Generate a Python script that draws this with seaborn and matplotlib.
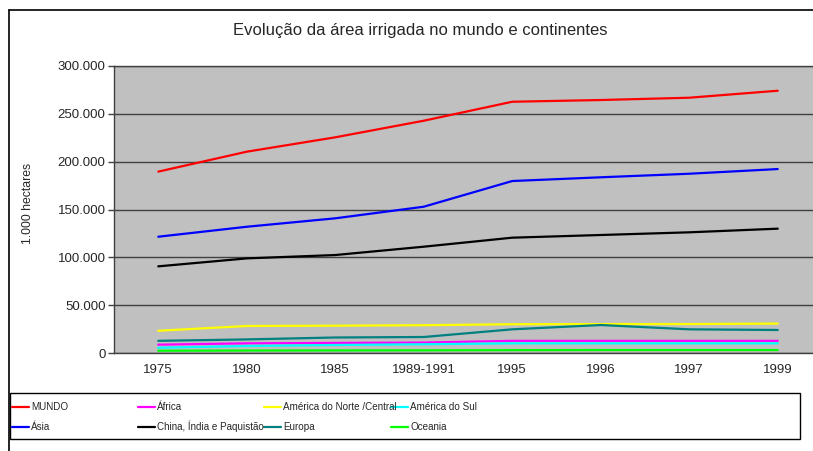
import numpy as np
import pandas as pd
import seaborn as sns
import matplotlib.pyplot as plt
from matplotlib.lines import Line2D
from matplotlib.patches import Rectangle
from matplotlib.ticker import FuncFormatter

# valores em 1.000 hectares
anos = ['1975', '1980', '1985', '1989-1991', '1995', '1996', '1997', '1999']
mundo = [189500, 210300, 225300, 242600, 262400, 264200, 266600, 273900]
africa = [9000, 10400, 10800, 11200, 13000, 13000, 13000, 13000]
am_norte = [23500, 28500, 28800, 29300, 30300, 30500, 30500, 31000]
am_sul = [5800, 7600, 8700, 9400, 10400, 10400, 10400, 10400]
asia = [121600, 132000, 140800, 152900, 179700, 183600, 187300, 192200]
china_india_paq = [90700, 99000, 102500, 111200, 120600, 123400, 126200, 130000]
europa = [13000, 14500, 16500, 17000, 25000, 29500, 25000, 24300]
oceania = [2700, 2900, 3000, 3100, 3300, 3400, 3400, 3400]

series = ['MUNDO', 'África', 'América do Norte /Central', 'América do Sul',
          'Ásia', 'China, Índia e Paquistão', 'Europa', 'Oceania']
valores = [mundo, africa, am_norte, am_sul, asia, china_india_paq, europa, oceania]
cores = ['#FF0000', '#FF00FF', '#FFFF00', '#00FFFF',
         '#0000FF', '#000000', '#008080', '#00FF00']
paleta = dict(zip(series, cores))

df = pd.DataFrame({
    'pos': list(range(len(anos))) * len(series),
    'serie': [s for s in series for _ in anos],
    'area': [v for vals in valores for v in vals],
})

sns.set_style('white')
plt.rcParams['font.family'] = ['Liberation Sans', 'DejaVu Sans']

W, H = 813, 451
fig = plt.figure(figsize=(W / 100, H / 100), dpi=100)
ax = fig.add_axes([114 / W, 1 - 353.3 / H, 708 / W, 287.6 / H])
ax.set_facecolor('#C0C0C0')

sns.lineplot(data=df, x='pos', y='area', hue='serie', hue_order=series,
             palette=paleta, linewidth=1.6, sort=False, legend=False, ax=ax)

ax.set_xlim(-0.5, 7.5)
ax.set_ylim(0, 300000)
ax.set_yticks(np.arange(0, 300001, 50000))
ax.yaxis.set_major_formatter(FuncFormatter(lambda v, p: f'{v:,.0f}'.replace(',', '.')))
ax.yaxis.grid(True, color='#404040', linewidth=1)
ax.set_axisbelow(True)

ax.set_xticks(np.arange(-0.5, 8, 1))
ax.set_xticklabels([])
ax.set_xticks(range(len(anos)), minor=True)
ax.set_xticklabels(anos, minor=True)
ax.tick_params(axis='x', which='major', length=4, width=1, color='#404040', direction='out')
ax.tick_params(axis='x', which='minor', length=0, pad=8, labelsize=9.5)
ax.tick_params(axis='y', length=4, width=1, color='#404040', pad=2, labelsize=9.5, left=True)
ax.set_xlabel('')
ax.set_ylabel('')
for lado in ['left', 'bottom', 'top']:
    ax.spines[lado].set_color('#404040')
    ax.spines[lado].set_linewidth(1)
ax.spines['right'].set_visible(False)

fig.text(420 / W, 1 - 30 / H, 'Evolução da área irrigada no mundo e continentes',
         ha='center', va='center', fontsize=12)
fig.text(28 / W, 1 - 203 / H, '1.000 hectares', rotation=90,
         ha='center', va='center', fontsize=8.8)

# moldura externa
fig.add_artist(Line2D([9 / W, 9 / W], [0, 1 - 10 / H], color='black', lw=1.2))
fig.add_artist(Line2D([9 / W, 1], [1 - 10 / H, 1 - 10 / H], color='black', lw=1.2))

# legenda: 4 colunas de largura igual, 2 linhas
fig.add_artist(Rectangle((10 / W, 1 - 439 / H), 790 / W, 46 / H, fill=False,
                         edgecolor='black', lw=1, transform=fig.transFigure))
colunas_x = [12, 138, 264, 391]
linhas_y = [406.7, 426.7]
for k, nome in enumerate(series):
    x = colunas_x[k % 4]
    y = linhas_y[k // 4]
    fig.add_artist(Line2D([x / W, (x + 17) / W], [1 - y / H, 1 - y / H],
                          color=paleta[nome], lw=1.6))
    fig.text((x + 19) / W, 1 - (y + 3.5) / H, nome, ha='left', va='baseline',
             fontsize=7.1)

fig.savefig('out.png', dpi=100)
